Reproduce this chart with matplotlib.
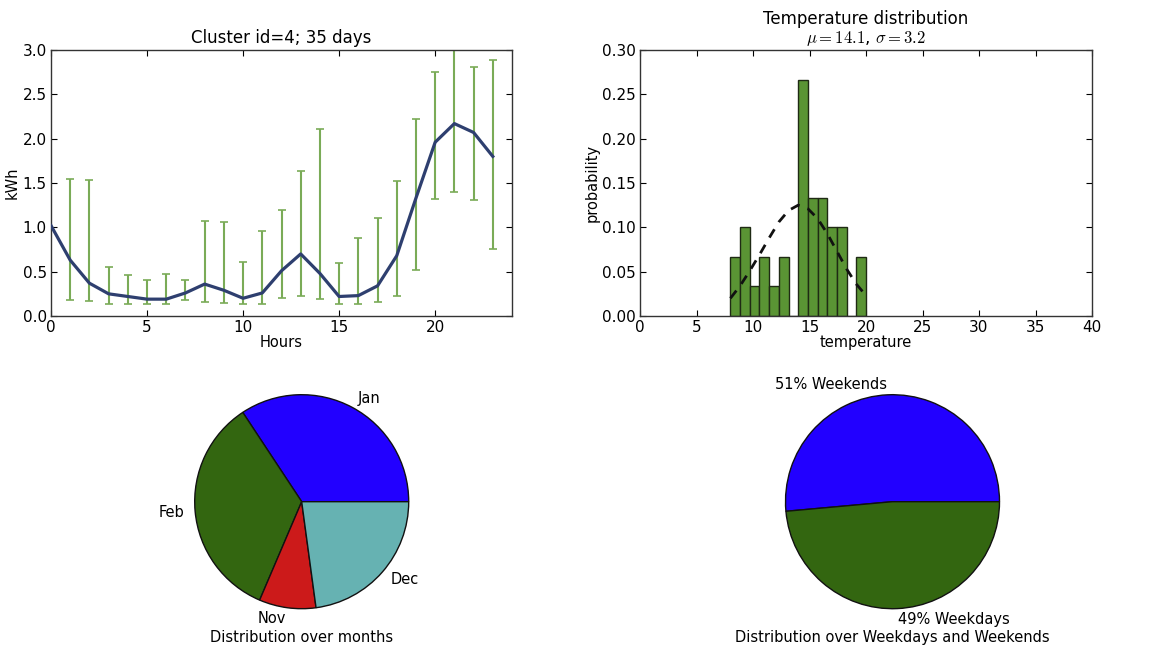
import matplotlib
matplotlib.use("Agg")
import matplotlib.pyplot as plt
import numpy as np

plt.rcParams['font.family'] = ['DejaVu Sans']
plt.rcParams['mathtext.fontset'] = 'cm'

# ---- data ----
hours = list(range(24))
mean_kwh = [1.02, 0.63, 0.37, 0.25, 0.22, 0.19, 0.19, 0.26, 0.36, 0.29, 0.20, 0.26,
            0.51, 0.70, 0.48, 0.22, 0.23, 0.34, 0.68, 1.33, 1.96, 2.17, 2.07, 1.80]
err_hours = list(range(1, 24))
err_low = [0.18, 0.17, 0.14, 0.14, 0.13, 0.14, 0.18, 0.16, 0.15, 0.14, 0.14, 0.20,
           0.23, 0.19, 0.14, 0.14, 0.16, 0.22, 0.52, 1.32, 1.40, 1.31, 0.76]
err_high = [1.54, 1.53, 0.55, 0.46, 0.41, 0.47, 0.41, 1.07, 1.06, 0.61, 0.96, 1.19,
            1.64, 2.11, 0.60, 0.88, 1.10, 1.52, 2.22, 2.75, 3.05, 2.81, 2.89]

temp_min, temp_max, temp_nbins = 8.0, 20.0, 14
temp_prob = [2/30, 3/30, 1/30, 2/30, 1/30, 2/30, 0, 8/30, 4/30, 4/30, 3/30, 3/30, 0, 2/30]
temp_mu, temp_sigma = 14.1, 3.2
fit_pdf = [0.020, 0.034, 0.051, 0.069, 0.088, 0.106, 0.119, 0.125,
           0.121, 0.110, 0.093, 0.073, 0.053, 0.036, 0.023]

months = ['Jan', 'Feb', 'Nov', 'Dec']
month_days = [12, 12, 3, 8]
week_labels = ['51% Weekends', '49% Weekdays']
week_days = [18, 17]

# ---- figure ----
W, H = 1151, 648
fig = plt.figure(figsize=(W / 100, H / 100), dpi=100)

def px_axes(x0, y0, x1, y1):
    return fig.add_axes([x0 / W, 1 - y1 / H, (x1 - x0) / W, (y1 - y0) / H])

def classic(ax):
    ax.tick_params(direction='in', top=True, right=True, length=4, labelsize=11,
                   pad=3, width=0.8)
    for s in ax.spines.values():
        s.set_linewidth(1.0)
        s.set_color('#333333')

# top-left: hourly profile
ax1 = px_axes(51, 50, 512, 316)
classic(ax1)
yerr = [np.array(mean_kwh[1:]) - np.array(err_low), np.array(err_high) - np.array(mean_kwh[1:])]
ax1.errorbar(err_hours, mean_kwh[1:], yerr=yerr, fmt='none', ecolor='#7aab57',
             elinewidth=1.5, capsize=3, capthick=1.2, zorder=2)
ax1.plot(hours, mean_kwh, color='#2e3f6f', lw=2.3, zorder=3)
ax1.set_xlim(0, 24)
ax1.set_ylim(0, 3.0)
ax1.set_xticks([0, 5, 10, 15, 20])
ax1.set_yticks(np.arange(0, 3.01, 0.5))
ax1.set_title('Cluster id=4; 35 days', fontsize=12, pad=5)
ax1.set_xlabel('Hours', fontsize=10.5, labelpad=0)
ax1.set_ylabel('kWh', fontsize=10.5, labelpad=2)

# top-right: temperature histogram
ax2 = px_axes(640, 50, 1092, 316)
classic(ax2)
edges = np.linspace(temp_min, temp_max, temp_nbins + 1)
ax2.bar(edges[:-1], temp_prob, width=np.diff(edges), align='edge',
        color='#5a9434', edgecolor='#1f2a14', linewidth=1.0, zorder=2)
ax2.plot(edges, fit_pdf, color='#111111', ls=(0, (3.5, 3)), lw=2, zorder=3)
ax2.set_xlim(0, 40)
ax2.set_ylim(0, 0.30)
ax2.set_xticks(range(0, 41, 5))
ax2.set_yticks(np.arange(0, 0.301, 0.05))
ax2.set_yticklabels(['%.2f' % v for v in np.arange(0, 0.301, 0.05)])
ax2.set_title('Temperature distribution\n' + r'$\mu=%.1f$, $\sigma=%.1f$' % (temp_mu, temp_sigma),
              fontsize=12, pad=5, linespacing=1.1)
ax2.set_xlabel('temperature', fontsize=10.5, labelpad=0)
ax2.set_ylabel('probability', fontsize=10.5, labelpad=2)

# bottom pies
R = 107
def pie_axes(cx, cy):
    half = 1.25 * R
    return px_axes(cx - half, cy - half, cx + half, cy + half)

ax3 = pie_axes(301.7, 501.7)
ax3.pie(month_days, labels=months, colors=['#2200ff', '#336610', '#cc1a1a', '#66b2b2'],
        wedgeprops=dict(edgecolor='#111111', linewidth=1.0),
        textprops=dict(fontsize=10.5))
ax3.set_aspect('equal')
ax3.set_xlabel('Distribution over months', fontsize=10.5, labelpad=-4)

ax4 = pie_axes(892.5, 501.7)
ax4.pie(week_days, labels=week_labels, colors=['#2200ff', '#336610'],
        wedgeprops=dict(edgecolor='#111111', linewidth=1.0),
        textprops=dict(fontsize=10.5))
ax4.set_aspect('equal')
ax4.set_xlabel('Distribution over Weekdays and Weekends', fontsize=10.5, labelpad=-4)

fig.savefig('out.png', dpi=100)
